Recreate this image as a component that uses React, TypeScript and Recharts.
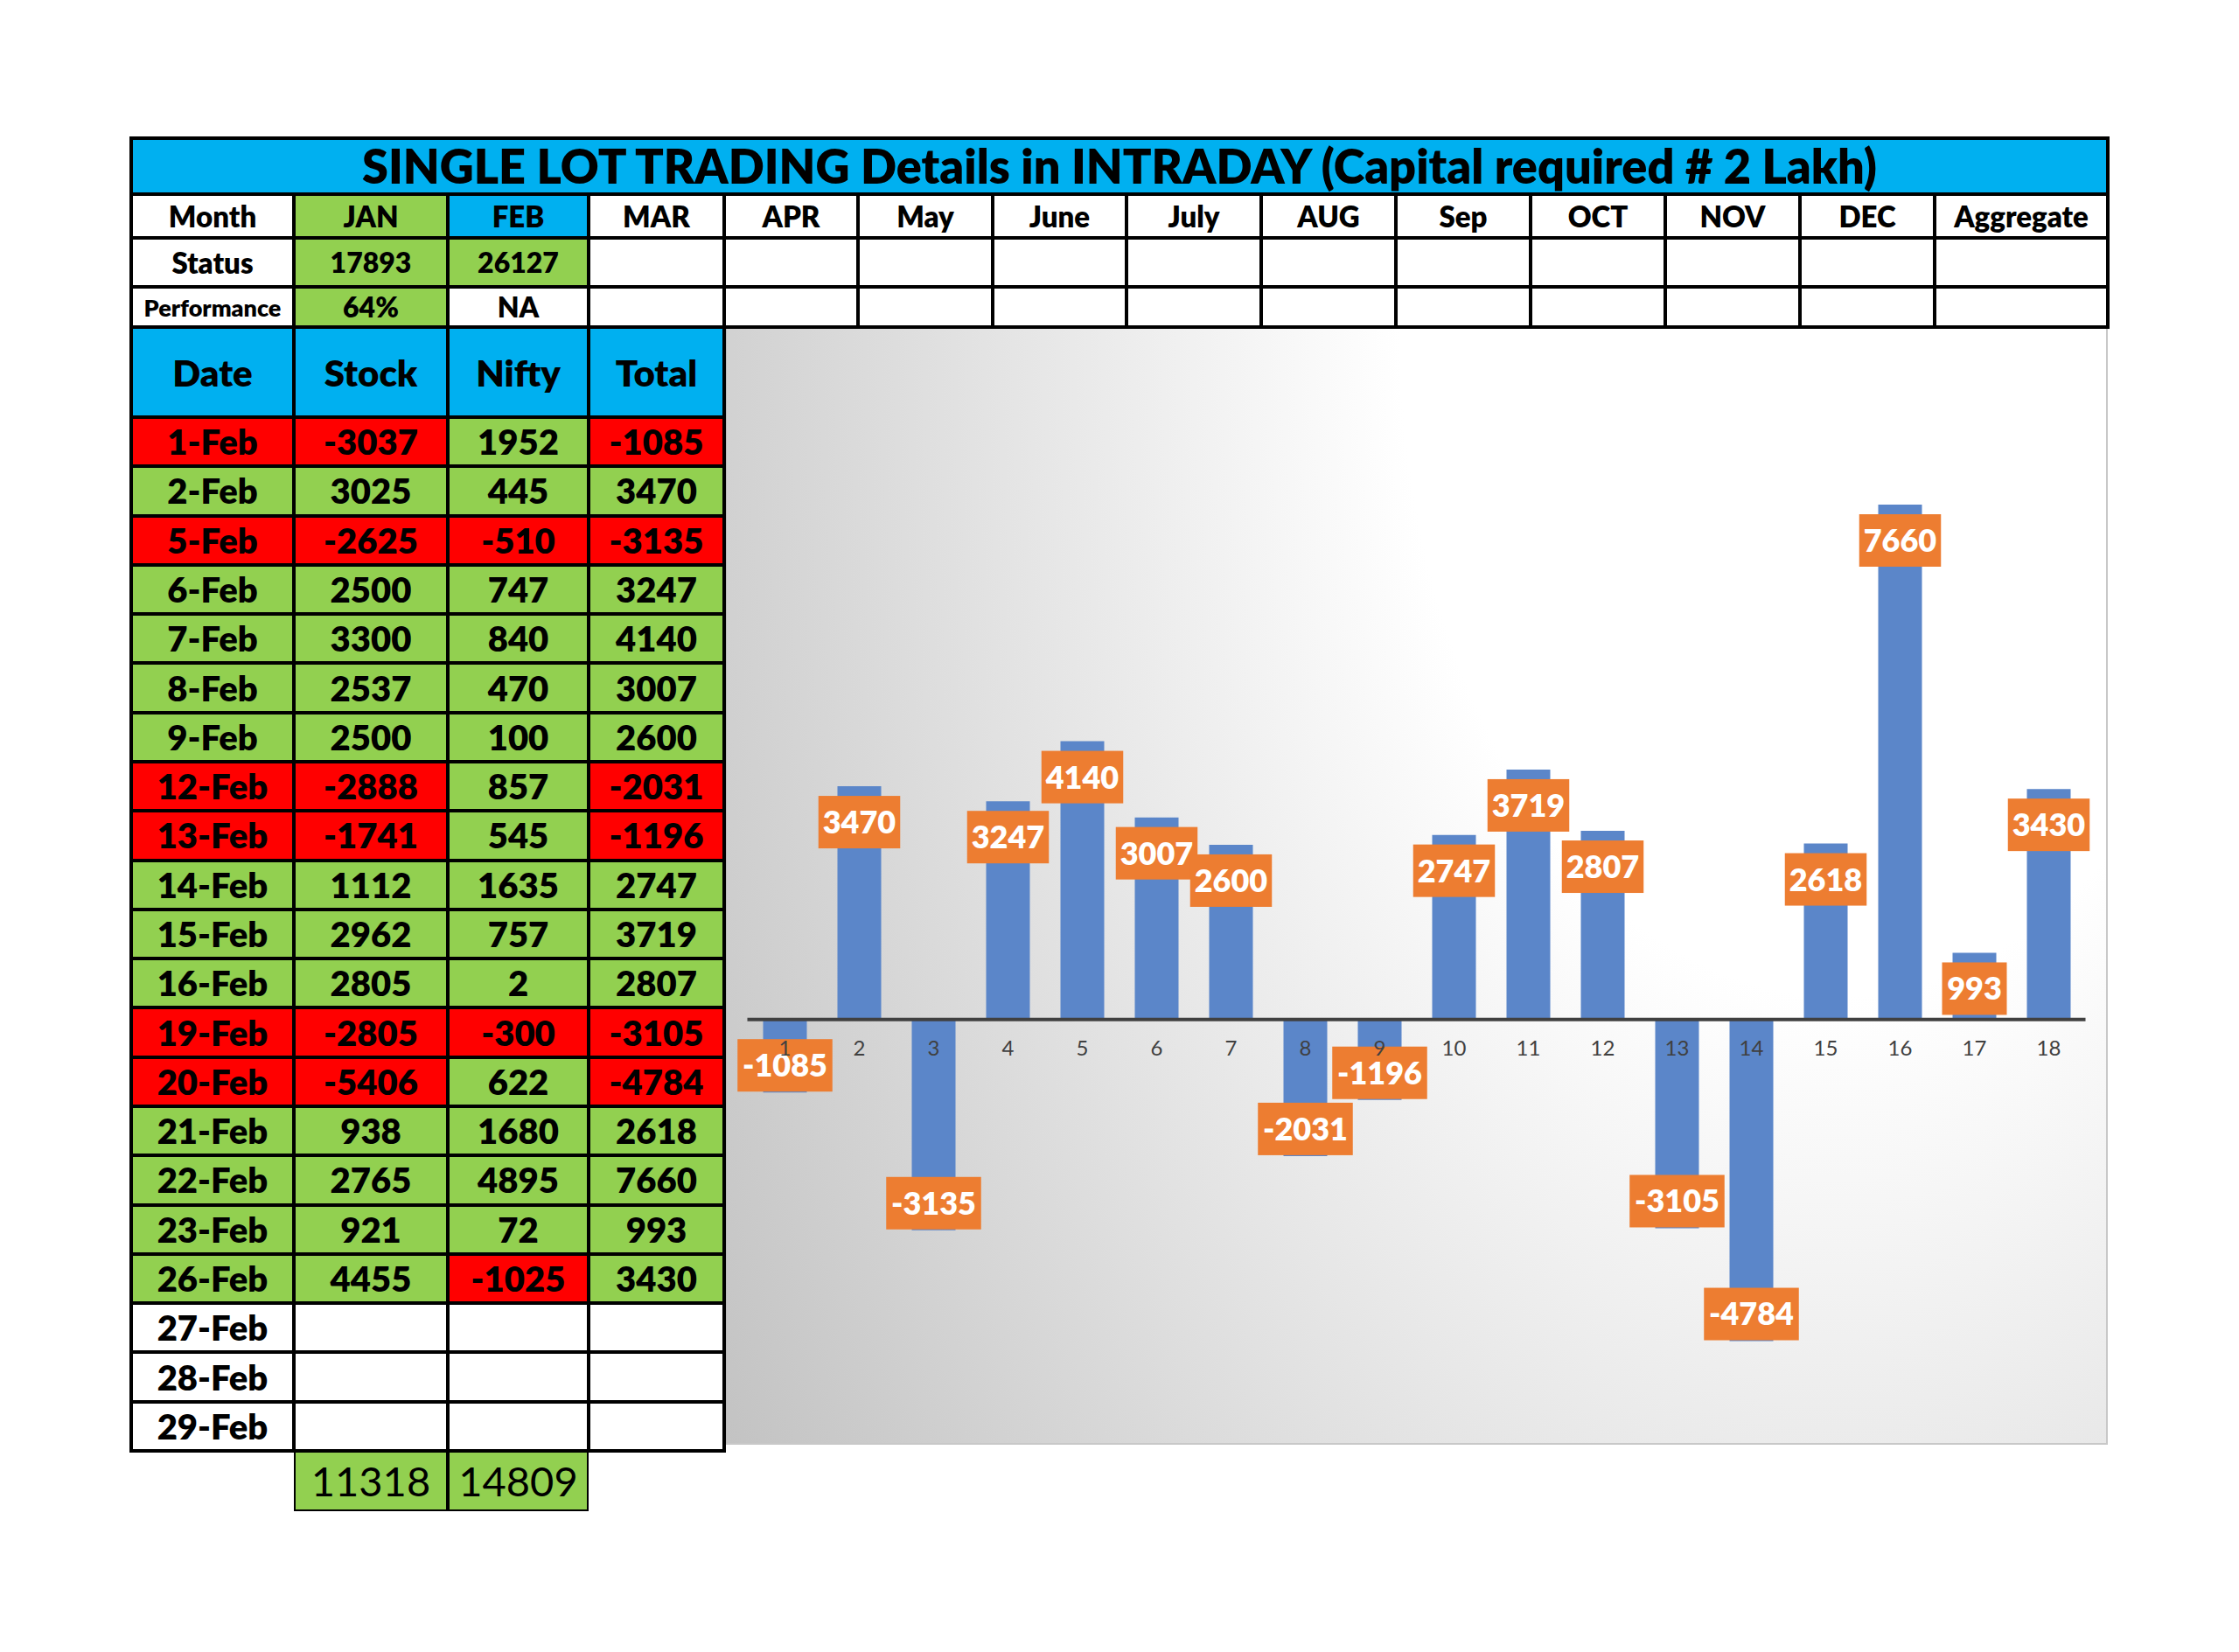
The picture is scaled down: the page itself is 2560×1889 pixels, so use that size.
import { BarChart, Bar, XAxis, YAxis, ReferenceLine, LabelList } from 'recharts'

// ---- data ----
const months = ['JAN', 'FEB', 'MAR', 'APR', 'May', 'June', 'July', 'AUG', 'Sep', 'OCT', 'NOV', 'DEC', 'Aggregate']
const monthStatus = ['17893', '26127', '', '', '', '', '', '', '', '', '', '', '']
const monthPerformance = ['64%', 'NA', '', '', '', '', '', '', '', '', '', '', '']

const dates = ['1-Feb', '2-Feb', '5-Feb', '6-Feb', '7-Feb', '8-Feb', '9-Feb', '12-Feb', '13-Feb', '14-Feb', '15-Feb',
  '16-Feb', '19-Feb', '20-Feb', '21-Feb', '22-Feb', '23-Feb', '26-Feb', '27-Feb', '28-Feb', '29-Feb']
const stock = [-3037, 3025, -2625, 2500, 3300, 2537, 2500, -2888, -1741, 1112, 2962, 2805, -2805, -5406, 938, 2765, 921, 4455]
const nifty = [1952, 445, -510, 747, 840, 470, 100, 857, 545, 1635, 757, 2, -300, 622, 1680, 4895, 72, -1025]
const total = [-1085, 3470, -3135, 3247, 4140, 3007, 2600, -2031, -1196, 2747, 3719, 2807, -3105, -4784, 2618, 7660, 993, 3430]
const columnTotals = [11318, 14809]
const days = ['1', '2', '3', '4', '5', '6', '7', '8', '9', '10', '11', '12', '13', '14', '15', '16', '17', '18']

const chartData = days.map((day, i) => ({ day, total: total[i] }))

const FONT = 'Lato, "Open Sans", sans-serif'
const BLUE = '#00B0F0'
const GREEN = '#92D050'
const RED = '#FF0000'
const WHITE = '#FFFFFF'

const COL = [150, 336, 512, 673, 828, 981, 1135, 1288, 1442, 1596, 1750, 1904, 2058, 2212, 2410]
const ROW_H = (1659 - 477) / 21

interface CellProps {
  x: number
  y: number
  w: number
  h: number
  bg?: string
  size?: number
  weight?: number
  children?: React.ReactNode
}

function Cell({ x, y, w, h, bg = WHITE, size = 40, weight = 800, children }: CellProps) {
  return (
    <div style={{
      position: 'absolute', left: x, top: y, width: w, height: h, boxSizing: 'border-box',
      border: '2px solid #000', background: bg, display: 'flex', alignItems: 'center',
      justifyContent: 'center', fontFamily: FONT, fontSize: size, fontWeight: weight,
      color: '#000', lineHeight: 1, whiteSpace: 'nowrap',
    }}>{children}</div>
  )
}

const signFill = (v: number | undefined) => (v === undefined ? WHITE : v < 0 ? RED : GREEN)

function ValueBox(props: any) {
  const vb = props.viewBox ?? props
  const { x, y, width, height } = vb
  const value = Number(props.value)
  const top = Math.min(y, y + height)
  const bottom = Math.max(y, y + height)
  const text = String(value)
  const digits = text.replace('-', '').length
  const w = 15.5 + 19.5 * digits + (value < 0 ? 15 : 0)
  const h = 60
  const boxTop = value >= 0 ? top + 11 : bottom - 1 - h
  const cx = x + width / 2
  return (
    <g>
      <rect x={cx - w / 2} y={boxTop} width={w} height={h} fill="#ED7D31" />
      <text x={cx} y={boxTop + h / 2} dy="0.36em" textAnchor="middle" fill="#fff"
        fontFamily={FONT} fontWeight={800} fontSize={36}>{text}</text>
    </g>
  )
}

function DayLabel(props: any) {
  const vb = props.viewBox ?? props
  const { x, y, width, height } = vb
  const v = total[props.index] ?? 0
  const zero = height < 0 ? y + height : v >= 0 ? y + height : y
  return (
    <text x={x + width / 2} y={zero + 33} dy="0.36em" textAnchor="middle" fill="#404040"
      fontFamily={FONT} fontSize={24}>{props.value}</text>
  )
}

export default function App() {
  const headerTop = 374
  const dataTop = 477
  return (
    <div style={{ position: 'absolute', left: 0, top: 0, width: 2560, height: 1889, background: '#fff' }}>
      {/* title */}
      <Cell x={150} y={158} w={2260} h={64} bg={BLUE} size={54}>
        SINGLE LOT TRADING Details in INTRADAY (Capital required # 2 Lakh)
      </Cell>

      {/* month / status / performance rows */}
      <Cell x={COL[0]} y={222} w={COL[1] - COL[0]} h={50} size={33}>Month</Cell>
      <Cell x={COL[0]} y={272} w={COL[1] - COL[0]} h={56} size={33}>Status</Cell>
      <Cell x={COL[0]} y={328} w={COL[1] - COL[0]} h={46} size={27}>Performance</Cell>
      {months.map((m, i) => (
        <Cell key={`m${i}`} x={COL[i + 1]} y={222} w={COL[i + 2] - COL[i + 1]} h={50} size={33}
          bg={i === 0 ? GREEN : i === 1 ? BLUE : WHITE}>{m}</Cell>
      ))}
      {monthStatus.map((s, i) => (
        <Cell key={`s${i}`} x={COL[i + 1]} y={272} w={COL[i + 2] - COL[i + 1]} h={56} size={32}
          bg={s ? GREEN : WHITE}>{s}</Cell>
      ))}
      {monthPerformance.map((p, i) => (
        <Cell key={`p${i}`} x={COL[i + 1]} y={328} w={COL[i + 2] - COL[i + 1]} h={46} size={32}
          bg={p.endsWith('%') ? GREEN : WHITE}>{p}</Cell>
      ))}

      {/* daily table header */}
      {['Date', 'Stock', 'Nifty', 'Total'].map((t, i) => (
        <Cell key={`h${i}`} x={COL[i]} y={headerTop} w={COL[i + 1] - COL[i]} h={dataTop - headerTop} bg={BLUE} size={42}>{t}</Cell>
      ))}

      {/* daily rows */}
      {dates.map((d, r) => {
        const y = dataTop + r * ROW_H
        return [
          <Cell key={`d${r}`} x={COL[0]} y={y} w={COL[1] - COL[0]} h={ROW_H} bg={signFill(total[r])}>{d}</Cell>,
          <Cell key={`st${r}`} x={COL[1]} y={y} w={COL[2] - COL[1]} h={ROW_H} bg={signFill(stock[r])}>{stock[r]}</Cell>,
          <Cell key={`n${r}`} x={COL[2]} y={y} w={COL[3] - COL[2]} h={ROW_H} bg={signFill(nifty[r])}>{nifty[r]}</Cell>,
          <Cell key={`t${r}`} x={COL[3]} y={y} w={COL[4] - COL[3]} h={ROW_H} bg={signFill(total[r])}>{total[r]}</Cell>,
        ]
      })}

      {/* column sums */}
      {columnTotals.map((v, i) => (
        <Cell key={`sum${i}`} x={COL[i + 1]} y={1659} w={COL[i + 2] - COL[i + 1]} h={69} bg={GREEN} size={47} weight={400}>{v}</Cell>
      ))}

      {/* outer frames */}
      <div style={{ position: 'absolute', left: 148, top: 156, width: 2264, height: 220, border: '3px solid #000', boxSizing: 'border-box', pointerEvents: 'none' }} />
      <div style={{ position: 'absolute', left: 148, top: 372, width: 682, height: 1289, border: '3px solid #000', boxSizing: 'border-box', pointerEvents: 'none' }} />

      {/* chart */}
      <div style={{
        position: 'absolute', left: 830, top: 376, width: 1580, height: 1276, boxSizing: 'border-box',
        borderRight: '2px solid #c8c8c8', borderBottom: '2px solid #c8c8c8', borderLeft: '1px solid #bdbdbd',
        background: 'radial-gradient(1000px 1527px at 1270px 0px, #ffffff 50%, #c0c0c0 157%)',
      }} />
      <div style={{ position: 'absolute', left: 828, top: 374 }}>
        <BarChart width={1582} height={1278} data={chartData} barSize={50}
          margin={{ top: 100, right: 25.5, bottom: 25, left: 26.5 }}>
          <XAxis dataKey="day" hide />
          <YAxis hide domain={[-6000, 9000]} allowDataOverflow />
          <Bar dataKey="total" fill="#5B86C9" isAnimationActive={false}>
            <LabelList dataKey="total" content={ValueBox} />
            <LabelList dataKey="day" content={DayLabel} />
          </Bar>
          <ReferenceLine y={0} stroke="#404040" strokeWidth={4} />
        </BarChart>
      </div>
    </div>
  )
}
